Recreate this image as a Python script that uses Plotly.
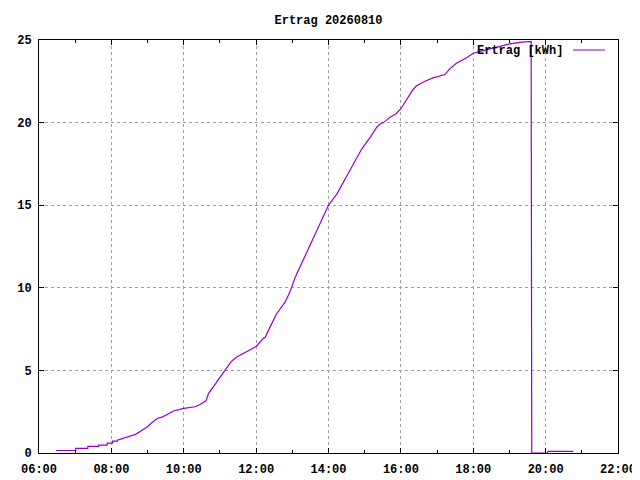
import pandas as pd
import plotly.graph_objects as go

# =========================
# Daten
# =========================
datum = "2026-08-10"
zeiten = [
    "06:28", "07:01", "07:01", "07:21", "07:21", "07:39", "07:39", "07:53", "07:53",
    "08:02", "08:02", "08:10", "08:10", "08:20", "08:30", "08:40", "08:47", "08:55",
    "09:00", "09:07", "09:16", "09:25", "09:32", "09:43", "10:00", "10:19", "10:27",
    "10:37", "10:41", "10:49", "11:00", "11:11", "11:19", "11:28", "11:38", "11:50",
    "12:00", "12:11", "12:15", "12:23", "12:34", "12:48", "12:56", "13:05", "13:19",
    "13:32", "13:46", "14:00", "14:14", "14:28", "14:41", "14:55", "15:09", "15:20",
    "15:25", "15:31", "15:41", "15:52", "16:00", "16:09", "16:20", "16:26", "16:39",
    "16:53", "17:13", "17:21", "17:32", "17:49", "18:00", "18:16", "18:38", "19:01",
    "19:17", "19:36", "19:37", "20:03", "20:04", "20:46",
]
ertrag = [
    0.15, 0.15, 0.28, 0.28, 0.40, 0.40, 0.48, 0.48, 0.60,
    0.60, 0.72, 0.72, 0.78, 0.89, 1.00, 1.13, 1.29, 1.45,
    1.59, 1.83, 2.09, 2.19, 2.33, 2.54, 2.70, 2.80, 2.94,
    3.16, 3.60, 4.00, 4.60, 5.15, 5.55, 5.81, 6.02, 6.26,
    6.45, 6.90, 7.00, 7.62, 8.43, 9.13, 9.74, 10.65, 11.75,
    12.86, 13.87, 15.00, 15.69, 16.60, 17.50, 18.40, 19.11, 19.72,
    19.90, 20.00, 20.30, 20.54, 20.84, 21.39, 21.99, 22.23, 22.49,
    22.71, 22.91, 23.25, 23.59, 23.92, 24.20, 24.36, 24.56, 24.76,
    24.86, 24.92, 0.0, 0.0, 0.1, 0.1,
]
y_ticks = [0, 5, 10, 15, 20, 25]

x = pd.to_datetime([f"{datum} {t}" for t in zeiten])

FONT = dict(family="Liberation Mono", size=12, color="black", weight="bold")
LILA = "#9400D3"

fig = go.Figure(go.Scatter(
    x=x, y=ertrag, mode="lines",
    line=dict(color=LILA, width=1.2),
    name="Ertrag [kWh]", showlegend=False,
))

achse = dict(
    showline=True, linecolor="black", linewidth=1, mirror="ticks",
    ticks="inside", ticklen=5, tickcolor="black",
    showgrid=True, gridcolor="#a0a0a0", griddash="dot", gridwidth=1,
    zeroline=False, tickfont=FONT, automargin=False,
)

# Seite hat 8px Body-Rand -> Ränder entsprechend verschoben
fig.update_layout(
    width=640, height=480,
    paper_bgcolor="white", plot_bgcolor="white",
    margin=dict(l=31, r=30, t=32, b=35),
    font=FONT,
    title=dict(text="Ertrag 20260810", x=0.5, xref="paper", xanchor="center",
               y=0.975, yanchor="middle", font=FONT),
    xaxis=dict(
        achse, type="date", ticklabelstandoff=5,
        range=[f"{datum} 06:00", f"{datum} 22:00"],
        dtick=2 * 3600000, tick0=f"{datum} 06:00", tickformat="%H:%M",
        minor=dict(ticks="inside", ticklen=3, dtick=3600000,
                   tick0=f"{datum} 06:00", tickcolor="black", showgrid=False),
    ),
    yaxis=dict(achse, range=[0, 25], tickvals=y_ticks, ticklabelstandoff=4),
)

# Legende im gnuplot-Stil (Text links, Linie rechts)
fig.add_annotation(
    text="Ertrag [kWh]", xref="paper", yref="paper",
    x=(565 - 39) / 579, y=(453 - 51) / 413, xanchor="right", yanchor="middle",
    showarrow=False, font=FONT,
)
fig.add_shape(
    type="line", xref="paper", yref="paper",
    x0=(573 - 39) / 579, x1=(605 - 39) / 579,
    y0=(453 - 50) / 413, y1=(453 - 50) / 413,
    line=dict(color=LILA, width=1),
)

fig.write_html("out.html")
